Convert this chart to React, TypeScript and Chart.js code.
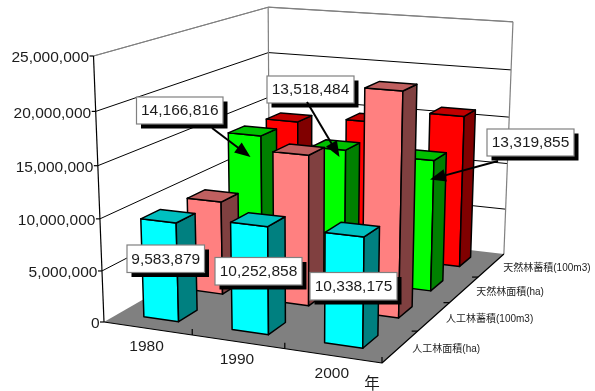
import React, { useEffect, useRef } from "react";
import { Chart, BarController, registerables } from "chart.js";

Chart.register(...registerables);

// Survey years and forest statistics per series
const years = ["1980", "1990", "2000"];
const seriesNames = ["人工林面積(ha)", "人工林蓄積(100m3)", "天然林面積(ha)", "天然林蓄積(100m3)"];
const plantedArea = [9583879, 10252858, 10338175];
const plantedStock = [9400000, 14900000, 21700000];
const naturalArea = [14166816, 13518484, 13319855];
const naturalStock = [13900000, 14600000, 16000000];
const valueTicks = [0, 5000000, 10000000, 15000000, 20000000, 25000000];

const faceColors = [
  { front: "#00FFFF", side: "#008080", top: "#00C0C0" },
  { front: "#FF8080", side: "#804040", top: "#C06060" },
  { front: "#00FF00", side: "#008000", top: "#00C000" },
  { front: "#FF0000", side: "#800000", top: "#C00000" },
];

const FONT = '"Liberation Sans", "Noto Sans CJK JP", sans-serif';
const INK = "#1c1c1c";

// Box corners of the plot volume and their homogeneous weights
const ORIGIN = [104, 322];
const X_END = [382, 363];
const DEPTH_END = [269.6, 226.7];
const VALUE_END = [93.5, 56];
const W_X = 0.93;
const W_DEPTH = 1.223;
const W_VALUE = 0.95;

// Perspective mapping: u along years, d into the depth, v up the value axis (all 0..1)
function project(u: number, d: number, v: number): [number, number] {
  const hx =
    ORIGIN[0] +
    u * (W_X * X_END[0] - ORIGIN[0]) +
    d * (W_DEPTH * DEPTH_END[0] - ORIGIN[0]) +
    v * (W_VALUE * VALUE_END[0] - ORIGIN[0]);
  const hy =
    ORIGIN[1] +
    u * (W_X * X_END[1] - ORIGIN[1]) +
    d * (W_DEPTH * DEPTH_END[1] - ORIGIN[1]) +
    v * (W_VALUE * VALUE_END[1] - ORIGIN[1]);
  const w = 1 + u * (W_X - 1) + d * (W_DEPTH - 1) + v * (W_VALUE - 1);
  return [hx / w, hy / w];
}

function poly(ctx: CanvasRenderingContext2D, pts: [number, number][], fill: string | null, stroke: string | null, lw = 1) {
  ctx.beginPath();
  pts.forEach((p, i) => (i ? ctx.lineTo(p[0], p[1]) : ctx.moveTo(p[0], p[1])));
  if (fill) {
    ctx.closePath();
    ctx.fillStyle = fill;
    ctx.fill();
  }
  if (stroke) {
    ctx.strokeStyle = stroke;
    ctx.lineWidth = lw;
    ctx.lineJoin = "round";
    ctx.stroke();
  }
}

function fracX(chart: Chart, pixel: number) {
  const s = chart.scales.x;
  return (pixel - s.left) / (s.right - s.left);
}
function fracY(chart: Chart, value: number) {
  const s = chart.scales.y;
  return (s.bottom - s.getPixelForValue(value)) / (s.bottom - s.top);
}

const BAR_U = 0.133;
const BAR_D = 0.102;
const ROW_SHIFT = 0.0035;
const COLUMN_SHIFT = -0.005;
const BAR_EDGE = 1.5;

// Bar controller that paints each bar as a box through the perspective mapping
class Box3DController extends BarController {
  static id = "box3d";
  static defaults = BarController.defaults;
  static overrides = BarController.overrides;

  draw() {
    const chart = this.chart;
    const ctx = chart.ctx;
    const meta = this.getMeta();
    const n = chart.data.datasets.length;
    const colors = faceColors[this.index];
    const d0 = (this.index + 0.5) / n + ROW_SHIFT - BAR_D / 2;
    const d1 = d0 + BAR_D;
    meta.data.forEach((_el: any, i: number) => {
      const parsed = this.getParsed(i) as any;
      const uc = fracX(chart, chart.scales.x.getPixelForValue(i)) + COLUMN_SHIFT;
      const u0 = uc - BAR_U / 2;
      const u1 = uc + BAR_U / 2;
      const v = fracY(chart, parsed.y);
      poly(ctx, [project(u0, d0, 0), project(u1, d0, 0), project(u1, d0, v), project(u0, d0, v)], colors.front, "#000", BAR_EDGE);
      poly(ctx, [project(u1, d0, 0), project(u1, d1, 0), project(u1, d1, v), project(u1, d0, v)], colors.side, "#000", BAR_EDGE);
      poly(ctx, [project(u0, d0, v), project(u1, d0, v), project(u1, d1, v), project(u0, d1, v)], colors.top, "#000", BAR_EDGE);
    });
  }
}
Chart.register(Box3DController);

// Walls, floor, axes and their labels, drawn beneath the boxes
const roomPlugin = {
  id: "room",
  beforeDatasetsDraw(chart: Chart) {
    const ctx = chart.ctx;
    ctx.save();
    poly(ctx, [project(0, 0, 0), project(1, 0, 0), project(1, 1, 0), project(0, 1, 0)], "#808080", null);
    chart.scales.y.ticks.forEach((t: any) => {
      const v = fracY(chart, t.value);
      const color = v >= 0.999 ? "#808080" : "#000";
      if (v > 0) {
        poly(ctx, [project(0, 0, v), project(0, 1, v), project(1, 1, v)], null, color, 1);
      }
    });
    poly(ctx, [project(0, 1, 0), project(0, 1, 1)], null, "#808080", 1.2);
    poly(ctx, [project(1, 1, 0), project(1, 1, 1)], null, "#808080", 1.2);
    poly(ctx, [project(0, 1, 1), project(1, 1, 1)], null, "#808080", 1.2);
    poly(ctx, [project(0, 0, 1), project(0, 1, 1)], null, "#808080", 1.2);
    poly(ctx, [project(0, 0, 0), project(0, 0, 1)], null, "#000", 1.2);
    poly(ctx, [project(0, 0, 0), project(1, 0, 0), project(1, 1, 0)], null, "#000", 1.2);

    ctx.fillStyle = INK;
    ctx.font = `15.5px ${FONT}`;
    ctx.textBaseline = "middle";
    ctx.textAlign = "right";
    chart.scales.y.ticks.forEach((t: any) => {
      const v = fracY(chart, t.value);
      const p = project(0, 0, v);
      poly(ctx, [[p[0] - 4, p[1]], p], null, "#000", 1.2);
      ctx.fillStyle = INK;
      ctx.fillText(t.label as string, p[0] - 4.5, p[1] + 2);
    });

    ctx.textAlign = "center";
    years.forEach((y, i) => {
      const uTick = (i + 1) / years.length;
      const t = project(uTick, 0, 0);
      poly(ctx, [[t[0], t[1] - 6], t], null, "#000", 1.2);
      const c = project((i + 0.5) / years.length, 0, 0);
      ctx.fillStyle = INK;
      ctx.fillText(y, c[0] - 1, c[1] + 18);
    });
    ctx.fillText("年", 372, 385);

    ctx.font = `10px ${FONT}`;
    ctx.textAlign = "left";
    seriesNames.forEach((name, i) => {
      const t = project(1, (i + 1) / seriesNames.length, 0);
      if (i < seriesNames.length - 1) poly(ctx, [[t[0] - 6, t[1]], t], null, "#000", 1.2);
      const c = project(1, (i + 0.5) / seriesNames.length, 0);
      ctx.fillStyle = INK;
      ctx.fillText(name, c[0] + 12, c[1] + 3);
    });
    ctx.restore();
  },
};

// Value callouts: which dataset/bar they quote, and where the box and arrow sit
const callouts = [
  { series: 2, bar: 0, box: [136.5, 97, 86.5, 27], arrow: [[212, 128], [250.5, 157]] },
  { series: 2, bar: 1, box: [267, 76, 87, 27], arrow: [[307, 102], [339.5, 157]] },
  { series: 2, bar: 2, box: [487, 129, 87, 27], arrow: [[498, 161], [430, 179.5]] },
  { series: 0, bar: 0, box: [127, 245, 77.5, 27.5], arrow: null },
  { series: 0, bar: 1, box: [215, 257.5, 87, 27.5], arrow: null },
  { series: 0, bar: 2, box: [310, 272.5, 87, 27.5], arrow: null },
];

const calloutPlugin = {
  id: "callouts",
  afterDatasetsDraw(chart: Chart) {
    const ctx = chart.ctx;
    ctx.save();
    callouts.forEach((c) => {
      const [x, y, w, h] = c.box;
      ctx.fillStyle = "#000";
      ctx.fillRect(x + 4.5, y + 4.5, w, h);
      ctx.fillStyle = "#fff";
      ctx.fillRect(x, y, w, h);
      ctx.strokeStyle = "#808080";
      ctx.lineWidth = 1.2;
      ctx.strokeRect(x, y, w, h);
      const raw = chart.data.datasets[c.series].data[c.bar] as number;
      ctx.fillStyle = INK;
      ctx.font = `15.5px ${FONT}`;
      ctx.textAlign = "center";
      ctx.textBaseline = "middle";
      ctx.fillText(raw.toLocaleString("en-US"), x + w / 2, y + h / 2 + 0.5);
      if (c.arrow) {
        const [a, b] = c.arrow;
        const ang = Math.atan2(b[1] - a[1], b[0] - a[0]);
        const len = 17;
        const spread = 0.38;
        const back = (s: number): [number, number] => [b[0] - len * Math.cos(ang + s), b[1] - len * Math.sin(ang + s)];
        ctx.strokeStyle = "#000";
        ctx.lineWidth = 2;
        ctx.beginPath();
        ctx.moveTo(a[0], a[1]);
        ctx.lineTo(b[0] - 8 * Math.cos(ang), b[1] - 8 * Math.sin(ang));
        ctx.stroke();
        poly(ctx, [b as [number, number], back(spread), back(-spread)], "#000", null);
      }
    });
    ctx.restore();
  },
};

export default function App() {
  const ref = useRef<HTMLCanvasElement>(null);
  useEffect(() => {
    const chart = new Chart(ref.current!, {
      type: "box3d" as any,
      data: {
        labels: years,
        datasets: [
          { label: seriesNames[0], data: plantedArea, backgroundColor: faceColors[0].front },
          { label: seriesNames[1], data: plantedStock, backgroundColor: faceColors[1].front },
          { label: seriesNames[2], data: naturalArea, backgroundColor: faceColors[2].front },
          { label: seriesNames[3], data: naturalStock, backgroundColor: faceColors[3].front },
        ],
      },
      options: {
        animation: false,
        responsive: false,
        layout: { padding: 0 },
        plugins: { legend: { display: false }, tooltip: { enabled: false } },
        scales: {
          x: { type: "category", display: false, offset: true },
          y: {
            type: "linear",
            display: false,
            min: valueTicks[0],
            max: valueTicks[valueTicks.length - 1],
            ticks: {
              stepSize: valueTicks[1] - valueTicks[0],
              callback: (v: any) => Number(v).toLocaleString("en-US"),
            },
          },
        },
      },
      plugins: [roomPlugin, calloutPlugin],
    } as any);
    return () => chart.destroy();
  }, []);
  return <canvas ref={ref} width={595} height={391} style={{ position: "absolute", left: 0, top: 0, display: "block" }} />;
}
